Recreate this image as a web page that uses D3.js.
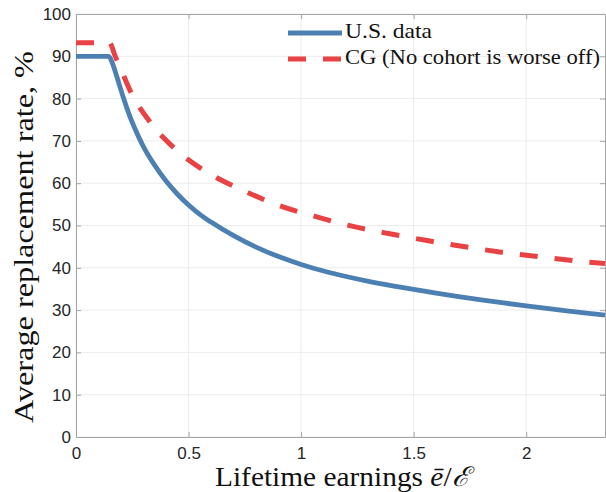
<!DOCTYPE html>
<html>
<head>
<meta charset="utf-8">
<script src="https://cdn.jsdelivr.net/npm/d3@7"></script>
<style>
  html, body { margin: 0; padding: 0; background: #fff; }
  svg { display: block; }
</style>
</head>
<body>
<svg id="chart" width="606" height="492"></svg>
<script>
// Lifetime earnings (relative to average) and average replacement rate, %
const usEarnings = [0, 0.145, 0.152, 0.16, 0.175, 0.19, 0.21, 0.235, 0.26, 0.3, 0.35, 0.4, 0.45, 0.5, 0.55, 0.6, 0.7, 0.8, 0.9, 1.0, 1.1, 1.2, 1.3, 1.4, 1.5, 1.6, 1.7, 1.8, 1.9, 2.0, 2.1, 2.2, 2.3, 2.35];
const usRate     = [90, 90, 89.6, 88.6, 86.3, 83.7, 80.3, 76.4, 73.1, 68.6, 64.2, 60.5, 57.45, 54.85, 52.65, 50.8, 47.6, 44.9, 42.65, 40.8, 39.25, 37.95, 36.8, 35.8, 34.9, 34.02, 33.2, 32.43, 31.7, 31.0, 30.34, 29.71, 29.1, 28.8];

const cgEarnings = [0, 0.15, 0.158, 0.17, 0.192, 0.243, 0.333, 0.453, 0.591, 0.742, 0.899, 1.058, 1.221, 1.388, 1.554, 1.89, 2.06, 2.227, 2.35];
const cgRate     = [93.2, 93.2, 92.5, 90.6, 87.9, 81.6, 74.2, 67.5, 62.3, 58.3, 54.8, 52.2, 49.9, 48.1, 46.5, 43.7, 42.6, 41.6, 41.0];

const seriesNames = ["U.S. data", "CG (No cohort is worse off)"];
const xTicks = [0, 0.5, 1, 1.5, 2];
const yTicks = [0, 10, 20, 30, 40, 50, 60, 70, 80, 90, 100];
const xDomain = [0, 2.35];
const yDomain = [0, 100];

const svg = d3.select("#chart");
const plot = { left: 76, right: 605, top: 14, bottom: 437 };

const x = d3.scaleLinear().domain(xDomain).range([plot.left, plot.right]);
const y = d3.scaleLinear().domain(yDomain).range([plot.bottom, plot.top]);

const axisGray = "#a6a6a6";
const gridGray = "#ececec";
const tickFont = "'Liberation Sans', Arial, Helvetica, sans-serif";
const serifFont = "'Liberation Serif', 'Times New Roman', 'DejaVu Serif', serif";

// grid
const grid = svg.append("g");
grid.selectAll("line.gx").data(xTicks).join("line")
  .attr("x1", d => x(d)).attr("x2", d => x(d))
  .attr("y1", plot.top).attr("y2", plot.bottom)
  .attr("stroke", gridGray).attr("stroke-width", 1);
grid.selectAll("line.gy").data(yTicks).join("line")
  .attr("y1", d => y(d)).attr("y2", d => y(d))
  .attr("x1", plot.left).attr("x2", plot.right)
  .attr("stroke", gridGray).attr("stroke-width", 1);

// axes (box with inward ticks)
function styleAxis(g, showText) {
  g.selectAll("path.domain").attr("stroke", axisGray).attr("stroke-width", 1);
  g.selectAll(".tick line").attr("stroke", axisGray);
  g.selectAll(".tick text")
    .attr("fill", "#262626")
    .style("font-family", tickFont)
    .style("font-size", "17px")
    .style("display", showText ? null : "none");
}

svg.append("g")
  .attr("transform", `translate(0,${plot.bottom})`)
  .call(d3.axisBottom(x).tickValues(xTicks).tickFormat(d3.format("~g"))
        .tickSizeInner(-5).tickSizeOuter(0).tickPadding(10))
  .call(g => styleAxis(g, true));

svg.append("g")
  .attr("transform", `translate(0,${plot.top})`)
  .call(d3.axisTop(x).tickValues(xTicks).tickSizeInner(-5).tickSizeOuter(0))
  .call(g => styleAxis(g, false));

svg.append("g")
  .attr("transform", `translate(${plot.left},0)`)
  .call(d3.axisLeft(y).tickValues(yTicks).tickFormat(d3.format("d"))
        .tickSizeInner(-5).tickSizeOuter(0).tickPadding(5))
  .call(g => styleAxis(g, true));

svg.append("g")
  .attr("transform", `translate(${plot.right},0)`)
  .call(d3.axisRight(y).tickValues(yTicks).tickSizeInner(-5).tickSizeOuter(0))
  .call(g => styleAxis(g, false));

// lines
svg.append("clipPath").attr("id", "plot-clip")
  .append("rect")
  .attr("x", plot.left).attr("y", plot.top)
  .attr("width", plot.right - plot.left).attr("height", plot.bottom - plot.top);

const line = d3.line()
  .x(d => x(d[0])).y(d => y(d[1]))
  .curve(d3.curveMonotoneX);

const usData = usEarnings.map((e, i) => [e, usRate[i]]);
const cgData = cgEarnings.map((e, i) => [e, cgRate[i]]);

const blue = "#4d80b2";
const red = "#e94244";
const dash = "18,17";

const lines = svg.append("g").attr("clip-path", "url(#plot-clip)");
lines.append("path").datum(usData)
  .attr("d", line).attr("fill", "none")
  .attr("stroke", blue).attr("stroke-width", 4.8);
lines.append("path").datum(cgData)
  .attr("d", line).attr("fill", "none")
  .attr("stroke", red).attr("stroke-width", 5)
  .attr("stroke-dasharray", dash);

// legend
const legend = svg.append("g");
const legendRows = [
  { name: seriesNames[0], color: blue, dash: null, y: 33, width: 87 },
  { name: seriesNames[1], color: red, dash: dash, y: 59, width: 255 }
];
legendRows.forEach(r => {
  legend.append("line")
    .attr("x1", 288).attr("x2", 342).attr("y1", r.y).attr("y2", r.y)
    .attr("stroke", r.color).attr("stroke-width", r.dash ? 5 : 4.8)
    .attr("stroke-dasharray", r.dash);
  legend.append("text")
    .attr("x", 345).attr("y", r.y + 5)
    .attr("textLength", r.width).attr("lengthAdjust", "spacingAndGlyphs")
    .style("font-family", serifFont).style("font-size", "21px")
    .attr("fill", "#111")
    .text(r.name);
});

// axis titles
const xLabel = svg.append("text")
  .attr("x", 342).attr("y", 486)
  .attr("text-anchor", "middle")
  .attr("textLength", 254).attr("lengthAdjust", "spacingAndGlyphs")
  .style("font-family", serifFont).style("font-size", "27px")
  .attr("fill", "#111");
xLabel.append("tspan").text("Lifetime earnings ");
xLabel.append("tspan").style("font-style", "italic").text("\u0113");
xLabel.append("tspan").text("/");
xLabel.append("tspan").style("font-style", "italic").text("\u2130");

svg.append("text")
  .attr("transform", "translate(33,237) rotate(-90)")
  .attr("text-anchor", "middle")
  .attr("textLength", 372).attr("lengthAdjust", "spacingAndGlyphs")
  .style("font-family", serifFont).style("font-size", "27px")
  .attr("fill", "#111")
  .text("Average replacement rate, %");
</script>
</body>
</html>
